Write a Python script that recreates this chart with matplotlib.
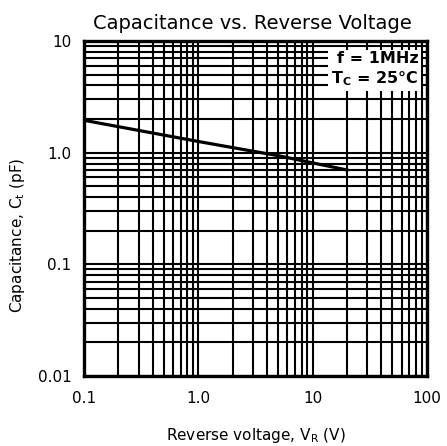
import matplotlib
matplotlib.use("Agg")
import matplotlib.pyplot as plt
from matplotlib.ticker import LogLocator, NullFormatter, FixedLocator

plt.rcParams['font.family'] = ['DejaVu Sans']
plt.rcParams['mathtext.fontset'] = 'dejavusans'

# capacitance curve
v_r = [0.1, 1.0, 2.0, 5.0, 10.0, 20.0]
c_t = [1.95, 1.26, 1.11, 0.94, 0.81, 0.70]

x_ticks = [0.1, 1.0, 10, 100]
x_labels = ['0.1', '1.0', '10', '100']
y_ticks = [0.01, 0.1, 1.0, 10]
y_labels = ['0.01', '0.1', '1.0', '10']

fig = plt.figure(figsize=(4.47, 4.46), dpi=100)
ax = fig.add_axes([0.188, 0.157, 0.767, 0.751])

ax.set_xscale('log')
ax.set_yscale('log')
ax.set_xlim(0.1, 100)
ax.set_ylim(0.01, 10)

ax.xaxis.set_major_locator(FixedLocator(x_ticks))
ax.yaxis.set_major_locator(FixedLocator(y_ticks))
ax.xaxis.set_minor_locator(LogLocator(base=10, subs=range(2, 10), numticks=20))
ax.yaxis.set_minor_locator(LogLocator(base=10, subs=range(2, 10), numticks=20))
ax.xaxis.set_minor_formatter(NullFormatter())
ax.yaxis.set_minor_formatter(NullFormatter())
ax.set_xticklabels(x_labels)
ax.set_yticklabels(y_labels)

ax.grid(True, which='both', color='black', lw=1.5)
ax.tick_params(which='both', length=0, labelsize=11)
ax.tick_params(axis='x', pad=11)
ax.tick_params(axis='y', pad=9)
for s in ax.spines.values():
    s.set_linewidth(2.4)

ax.plot(v_r, c_t, color='black', lw=2.3, zorder=3)

ax.text(0.975, 0.97, 'f = 1MHz\nT$_\\mathregular{C}$ = 25°C', transform=ax.transAxes,
        ha='right', va='top', fontsize=11.5, fontweight='bold', linespacing=1.25,
        bbox=dict(facecolor='white', edgecolor='none', pad=2), zorder=4)

ax.set_title('Capacitance vs. Reverse Voltage', fontsize=14, pad=9, x=0.49)
ax.set_xlabel('Reverse voltage, V$_\\mathregular{R}$ (V)', fontsize=11, labelpad=14)
ax.set_ylabel('Capacitance, C$_\\mathregular{t}$ (pF)', fontsize=11)
ax.yaxis.set_label_coords(-0.166, 0.42)

fig.savefig('out.png', dpi=100)
